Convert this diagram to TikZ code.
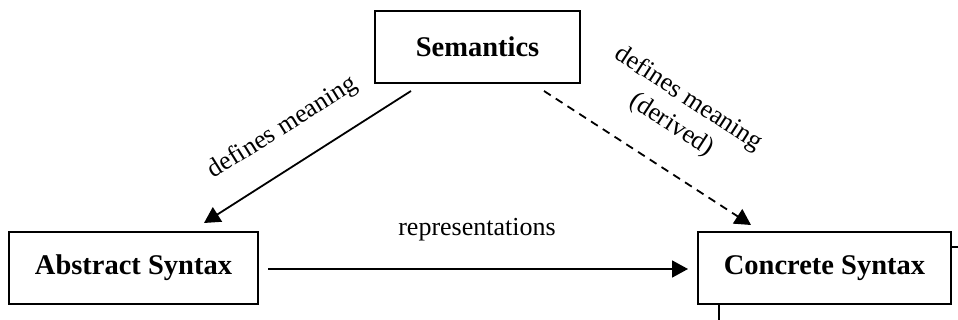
\documentclass[tikz,border=0pt]{standalone}
\usepackage{fontspec}
\setmainfont{Liberation Serif}
\usetikzlibrary{arrows.meta,calc}
\begin{document}
\begin{tikzpicture}[x=1pt,y=-1pt,
  box/.style={draw,line width=2pt,minimum height=72pt,inner sep=0pt,
    font=\fontsize{28.5}{34}\selectfont\bfseries},
  conn/.style={line width=1.8pt,-{Triangle[length=16pt,width=17pt]}},
  lbl/.style={font=\fontsize{26}{31}\selectfont,inner sep=0pt,align=center}]
\useasboundingbox (0,0) rectangle (958,320);
\node[box,minimum width=205pt] (sem) at (477.5,47) {Semantics};
\node[box,minimum width=249pt] (abs) at (133.5,268) {Abstract Syntax};
\node[box,minimum width=253pt] (conc) at (824.5,268) {Concrete Syntax};
\draw[conn] ($(sem.south west)+(37,7)$) -- ($(abs.north west)+(196,-8)$);
\draw[conn,dash pattern=on 8pt off 6pt] ($(sem.south east)+(-37,7)$) -- ($(conc.north west)+(54,-6)$);
\draw[conn] ($(abs.east)+(9,1)$) -- ($(conc.west)+(-9,1)$);
\node[lbl,rotate=32] (l1) at (283,128) {defines meaning};
\node[lbl,rotate=-33] (l2) at (680,112) {defines meaning\\(derived)};
\node[lbl] (l3) at (477,230) {representations};
\draw[line width=2pt] ($(conc.north east)+(0,16)$) -- +(8,0);
\draw[line width=2pt] ($(conc.south west)+(22,0)$) -- +(0,17);
\end{tikzpicture}
\end{document}
